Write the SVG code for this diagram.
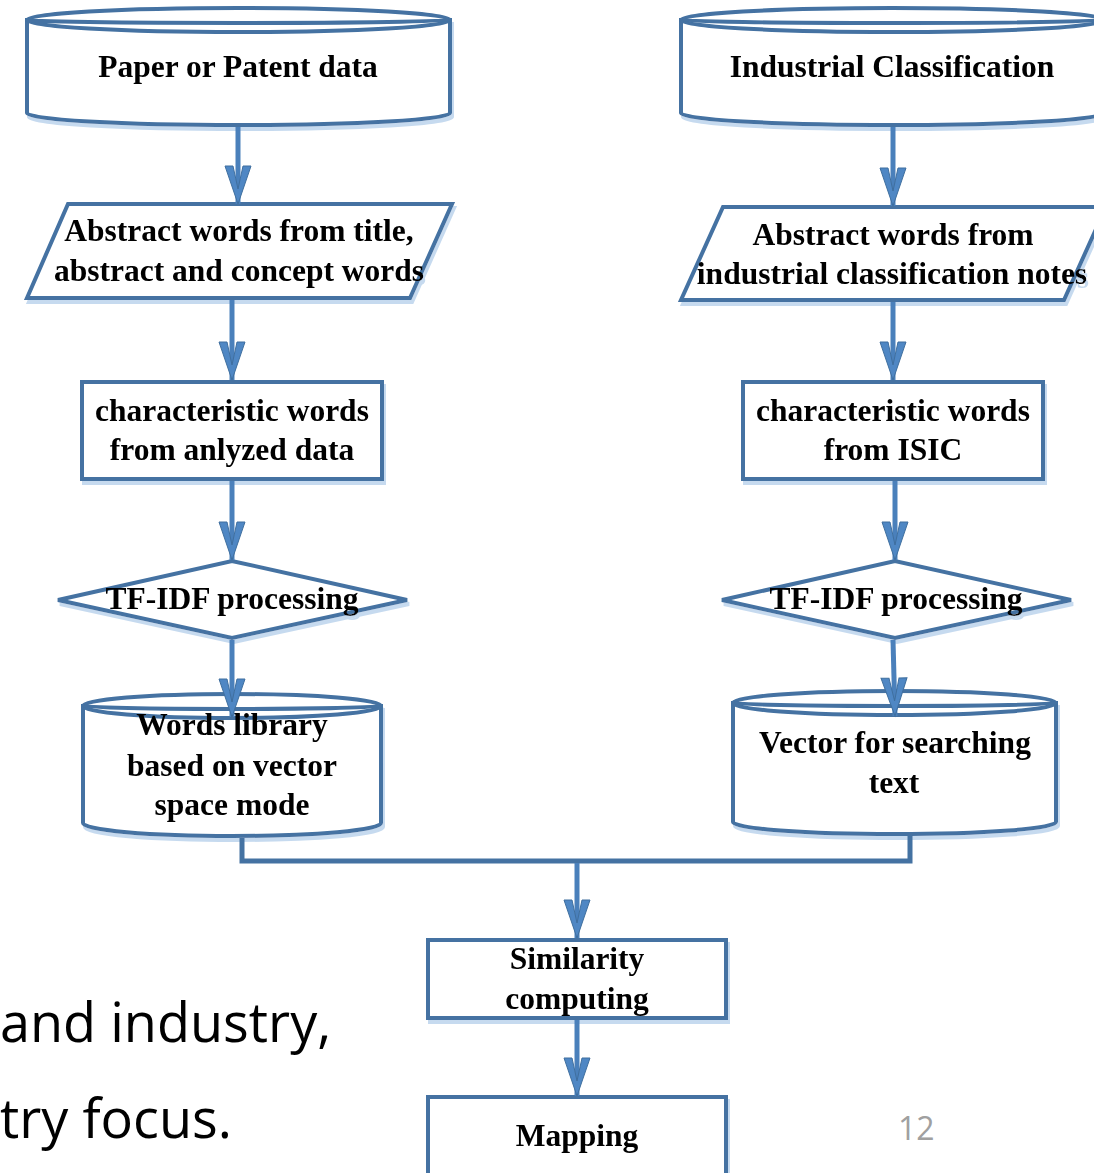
<svg xmlns="http://www.w3.org/2000/svg" width="1094" height="1173" viewBox="0 0 1094 1173">
<style>
.shape{fill:#ffffff;stroke:#4472a2;stroke-width:4;}
.rim{fill:none;stroke:#4472a2;stroke-width:4;}
.lbl{font-family:"Liberation Serif","Times New Roman",serif;font-weight:bold;font-size:31.5px;fill:#000;text-anchor:middle;}
.wire{fill:none;stroke:#4472a2;stroke-width:5;}
.shaft{fill:none;stroke:#4a80bb;stroke-width:5;}
.body{font-family:"Open Sans","Noto Sans",sans-serif;font-size:54px;fill:#000;}
.pg{font-family:"Open Sans","Noto Sans",sans-serif;font-size:32px;fill:#a0a0a0;}
.node{filter:url(#sh);}
</style>
<defs>
<filter id="sh" x="-5%" y="-10%" width="115%" height="130%">
<feDropShadow dx="2" dy="4" stdDeviation="0.6" flood-color="#c6daef" flood-opacity="1"/>
</filter>
<marker id="ah" markerUnits="userSpaceOnUse" viewBox="-44 -16 48 32" markerWidth="48" markerHeight="32" refX="0" refY="0" orient="auto" overflow="visible">
<polygon points="0,0 -38,-13 -38,-5 -15,0 -38,5 -38,13" fill="#4f87c4" stroke="#3f6f9f" stroke-width="1"/>
</marker>
</defs>
<rect width="1094" height="1173" fill="#ffffff"/>

<g id="paper-data" class="node">
<path class="shape" d="M27,20 L27,113 A211.5,12 0 0 0 450,113 L450,20 Z"/>
<ellipse class="shape" cx="238.5" cy="20" rx="211.5" ry="12"/>
<path class="rim" d="M27,20 A211.5,3 0 0 0 450,20"/>
<text class="lbl" x="238" y="77">Paper or Patent data</text>
</g>

<g id="industrial-classification" class="node">
<path class="shape" d="M681,20 L681,113 A211.5,12 0 0 0 1104,113 L1104,20 Z"/>
<ellipse class="shape" cx="892.5" cy="20" rx="211.5" ry="12"/>
<path class="rim" d="M681,20 A211.5,3 0 0 0 1104,20"/>
<text class="lbl" x="892" y="77">Industrial Classification</text>
</g>

<g id="abstract-left" class="node">
<polygon class="shape" points="68,204 452,204 410,298 27,298"/>
<text class="lbl" x="239" y="241">Abstract words from title,</text>
<text class="lbl" x="239" y="281">abstract and concept words</text>
</g>

<g id="abstract-right" class="node">
<polygon class="shape" points="723,207 1106,207 1064,300 681,300"/>
<text class="lbl" x="893" y="245">Abstract words from</text>
<text class="lbl" x="892" y="284">industrial classification notes</text>
</g>

<g id="char-left" class="node">
<rect class="shape" x="82" y="382" width="300" height="97"/>
<text class="lbl" x="232" y="421">characteristic words</text>
<text class="lbl" x="232" y="460">from anlyzed data</text>
</g>

<g id="char-right" class="node">
<rect class="shape" x="743" y="382" width="300" height="97"/>
<text class="lbl" x="893" y="421">characteristic words</text>
<text class="lbl" x="893" y="460">from ISIC</text>
</g>

<g id="tfidf-left" class="node">
<polygon class="shape" points="58,600 232,561 407,600 232,638"/>
<text class="lbl" x="232" y="609">TF-IDF processing</text>
</g>

<g id="tfidf-right" class="node">
<polygon class="shape" points="722,600 895,561 1071,600 895,638"/>
<text class="lbl" x="896" y="609">TF-IDF processing</text>
</g>

<g id="words-library" class="node">
<path class="shape" d="M83,706 L83,823 A149,13 0 0 0 381,823 L381,706 Z"/>
<ellipse class="shape" cx="232" cy="706" rx="149" ry="12"/>
<path class="rim" d="M83,706 A149,3 0 0 0 381,706"/>
<text class="lbl" x="232" y="735">Words library</text>
<text class="lbl" x="232" y="776">based on vector</text>
<text class="lbl" x="232" y="815">space mode</text>
</g>

<g id="vector-search" class="node">
<path class="shape" d="M733,703 L733,822 A161.5,12 0 0 0 1056,822 L1056,703 Z"/>
<ellipse class="shape" cx="894.5" cy="703" rx="161.5" ry="12"/>
<path class="rim" d="M733,703 A161.5,3 0 0 0 1056,703"/>
<text class="lbl" x="895" y="753">Vector for searching</text>
<text class="lbl" x="894" y="793">text</text>
</g>

<g id="similarity" class="node">
<rect class="shape" x="428" y="940" width="298" height="78"/>
<text class="lbl" x="577" y="969">Similarity</text>
<text class="lbl" x="577" y="1009">computing</text>
</g>

<g id="mapping" class="node">
<rect class="shape" x="428" y="1097" width="298" height="80"/>
<text class="lbl" x="577" y="1146">Mapping</text>
</g>

<g id="connectors">
<line class="shaft" x1="238" y1="127" x2="238" y2="204" marker-end="url(#ah)"/>
<line class="shaft" x1="232" y1="300" x2="232" y2="380" marker-end="url(#ah)"/>
<line class="shaft" x1="232" y1="481" x2="232" y2="560" marker-end="url(#ah)"/>
<line class="shaft" x1="232" y1="640" x2="232" y2="717" marker-end="url(#ah)"/>
<line class="shaft" x1="893" y1="127" x2="893" y2="206" marker-end="url(#ah)"/>
<line class="shaft" x1="893" y1="302" x2="893" y2="380" marker-end="url(#ah)"/>
<line class="shaft" x1="895" y1="481" x2="895" y2="560" marker-end="url(#ah)"/>
<line class="shaft" x1="893" y1="640" x2="895" y2="716" marker-end="url(#ah)"/>
<polyline class="wire" points="242,838 242,861 910,861 910,836"/>
<line class="shaft" x1="577" y1="863" x2="577" y2="938" marker-end="url(#ah)"/>
<line class="shaft" x1="577" y1="1020" x2="577" y2="1096" marker-end="url(#ah)"/>
</g>

<text class="body" x="0" y="1042">and industry,</text>
<text class="body" x="0" y="1138">try focus.</text>
<text class="pg" x="898" y="1140">12</text>
</svg>
